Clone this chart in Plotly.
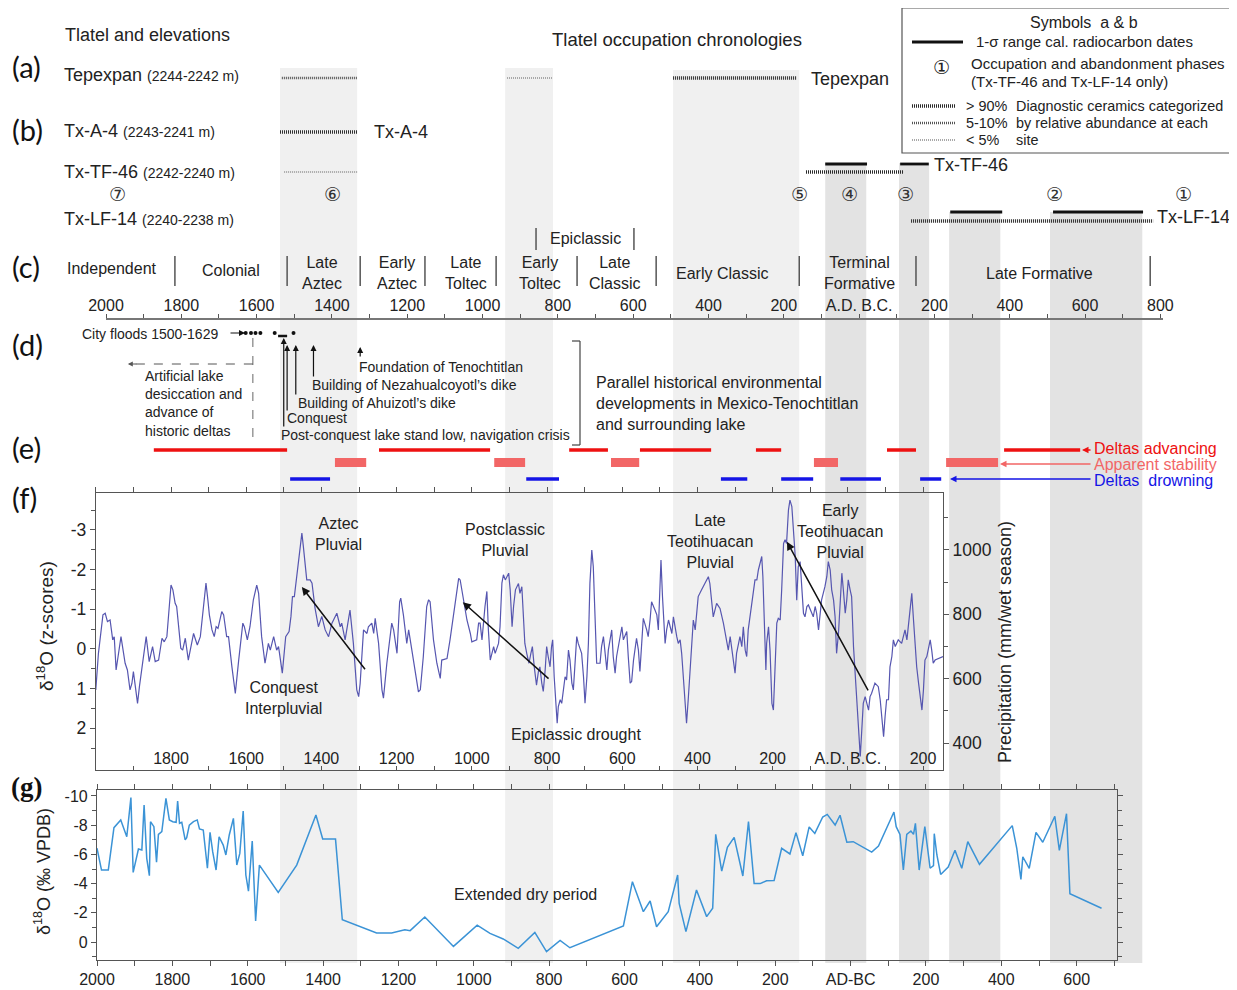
import plotly.graph_objects as go

# reference canvas is 1237x990; the page body adds an 8px margin, so the figure is drawn
# 8px smaller and every reference pixel position is shifted by that offset.
W, H = 1237, 990
OFF = 8
FW, FH = W - OFF, H - OFF
FONT = "Liberation Sans, Arial, sans-serif"

# ---------------- DATA ----------------
# shared chronology (years: A.D. positive, B.C. negative)
chron_ticks = list(range(2000, -801, -100))

# shaded occupation phases
band_start = [1538, 940, 494, 90, -106, -239, -507]
band_end = [1333, 813, 159, -19, -186, -375, -752]
band_tone = ["light", "light", "light", "dark", "dark", "dark", "dark"]

# (a)/(b) ceramic occupation records
ceram_site = ["Tepexpan", "Tepexpan", "Tepexpan", "Tx-A-4", "Tx-TF-46", "Tx-TF-46", "Tx-LF-14"]
ceram_start = [1533, 935, 494, 1538, 1527, 141, -138]
ceram_end = [1333, 815, 165, 1333, 1333, -117, -781]
ceram_class = ["5-10%", "<5%", ">90%", ">90%", "<5%", ">90%", ">90%"]
# 1-sigma radiocarbon ranges
c14_site = ["Tx-TF-46", "Tx-TF-46", "Tx-LF-14", "Tx-LF-14"]
c14_start = [90, -109, -242, -515]
c14_end = [-21, -185, -380, -754]

# (c) cultural periods
period_bounds = [1817, 1519, 1325, 1153, 964, 749, 539, 159, -151, -773]
epiclassic_bounds = [858, 598]

# (d) historical events
flood_years = [1629, 1615, 1603, 1590, 1552, 1502]
flood_bar = [1543, 1519]
desiccation_year = 1610
event_names = ["Post-conquest lake stand low, navigation crisis", "Conquest",
               "Building of Ahuizotl\u2019s dike", "Building of Nezahualcoyotl\u2019s dike",
               "Foundation of Tenochtitlan"]
event_years = [1528, 1519, 1496, 1449, 1325]

# (e) delta behaviour
adv_start = [1873, 1275, 770, 582, 274, -74, -385]
adv_end = [1519, 980, 667, 393, 207, -151, -587]
stab_start = [1392, 969, 659, 120, -231]
stab_end = [1309, 887, 584, 56, -369]
drown_start = [1511, 884, 367, 207, 50, -162]
drown_end = [1405, 797, 297, 122, -58, -218]

# (f) d18O z-scores
f_year = [2000, 1993, 1981, 1975, 1969, 1962, 1955, 1951, 1946, 1933, 1922, 1916, 1909, 1904, 1900,
          1889, 1884, 1873, 1866, 1858, 1849, 1842, 1833, 1824, 1818, 1811, 1807, 1800, 1795, 1789,
          1785, 1780, 1774, 1769, 1762, 1754, 1747, 1740, 1736, 1730, 1722, 1718, 1712, 1707, 1702,
          1698, 1691, 1685, 1680, 1675, 1665, 1660, 1652, 1647, 1638, 1629, 1620, 1609, 1605, 1597,
          1590, 1581, 1572, 1567, 1559, 1550, 1541, 1536, 1527, 1519, 1514, 1504, 1495, 1486, 1481,
          1477, 1472, 1467, 1461, 1452, 1448, 1439, 1430, 1425, 1417, 1408, 1399, 1390, 1381, 1372,
          1359, 1350, 1346, 1337, 1324, 1315, 1306, 1301, 1297, 1288, 1279, 1275, 1266, 1261, 1257,
          1248, 1239, 1235, 1226, 1213, 1208, 1199, 1192, 1189, 1182, 1177, 1173, 1168, 1160, 1151,
          1142, 1137, 1129, 1120, 1115, 1111, 1102, 1093, 1084, 1080, 1066, 1058, 1049, 1040, 1035,
          1031, 1022, 1013, 1004, 1000, 987, 982, 978, 973, 965, 960, 956, 951, 942, 938,
          929, 925, 920, 916, 911, 902, 898, 893, 889, 884,
          876, 872, 867, 863, 859, 854, 848, 843, 839, 834, 828, 823, 819, 814, 810,
          805, 801, 797, 792, 788, 785, 781, 777, 773, 770, 765, 761, 757, 752, 748,
          743, 739, 734, 730, 726, 721, 717, 708, 703, 699, 694, 690, 686, 681, 677,
          672, 668, 659, 655, 650, 646, 641, 637, 628, 624, 619, 615, 610, 601, 597,
          588, 584, 579, 575, 570, 562, 557, 553, 548, 544, 535, 531, 526, 522, 513,
          508, 504, 499, 497, 493, 490, 486, 482, 477, 468, 464, 455, 451, 446, 442,
          437, 433, 429, 424, 420, 415, 411, 406, 402, 398, 389, 380, 371, 367, 362,
          358, 349, 340, 331, 322, 318, 313, 309, 300, 296, 287, 282, 278, 273, 269,
          265, 256, 251, 247, 242, 238, 229, 226, 222, 218, 216, 211, 207, 202, 198,
          194, 189, 185, 180, 176, 171, 167, 163, 158, 154, 149, 145, 140, 136, 132,
          127, 123, 118, 114, 109, 105, 100, 92, 87, 83, 78, 74, 70, 61, 56,
          52, 47, 43, 38, 34, 30, 25, 21, 16, 12, 7, 3, -1, -6, -10,
          -15, -19, -24, -28, -33, -37, -41, -46, -50, -55, -59, -63, -72, -81, -86,
          -90, -95, -99, -103, -108, -112, -117, -121, -126, -134, -143, -148, -152, -157, -161,
          -165, -170, -174, -179, -183, -188, -192, -197, -201, -205, -210, -214, -219, -223, -227,
          -232, -241, -253]
f_z = [1.03, 0.11, -0.86, -0.90, -0.69, -0.73, -0.23, -0.31, 0.53, -0.31, 0.36, 0.53, 1.03, 0.87, 0.57,
       1.37, 0.95, 0.19, -0.31, 0.32, -0.06, 0.32, 0.28, -0.27, -0.18, -0.31, -0.82, -1.61, -1.49, -1.15,
       -1.07, -0.65, -0.02, 0.03, -0.27, 0.28, -0.10, -0.39, -0.27, -0.10, -0.31, -0.69, -1.32, -1.66, -1.24,
       -0.86, -0.48, -0.31, -0.56, -0.52, -0.94, -0.86, -0.31, -0.31, 0.45, 1.12, 0.28, -0.65, -0.56, -0.23,
       -0.56, -1.24, -1.61, -1.40, -0.31, 0.36, -0.14, 0.03, -0.31, 0.03, -0.06, 0.61, -0.31, -0.44, -0.82,
       -1.32, -1.32, -1.70, -2.24, -2.92, -2.58, -1.74, -1.74, -1.66, -1.03, -0.56, -0.82, -0.48, -0.31, -0.65,
       -0.90, -0.56, -0.65, -0.23, -0.98, -0.14, 1.03, 1.20, 0.87, -0.48, -0.39, -0.56, -0.65, -0.39, -0.77,
       -0.14, 1.03, 1.24, 0.36, -0.65, -0.48, 0.11, -1.19, -1.28, -0.86, -0.39, -0.14, -0.48, -0.02, 0.53,
       1.08, 1.03, 0.19, -1.07, -1.24, -1.19, -0.23, 0.36, 0.74, 0.28, 0.24, -0.23, -0.82, -1.49, -1.78,
       -1.74, -1.24, -0.73, -0.39, -0.18, -0.23, -0.65, -0.65, -0.23, -1.07, -1.45, -0.48, 0.28, -0.06, 0.11,
       -0.14, -0.56, -1.66, -1.87, -1.74, -1.91, -1.49, -0.56, -1.07, -1.49,
       -1.65, -1.40, -1.57, -0.81, -0.14, 0.11, 0.36, 0.11, -0.06, 0.45, 0.91, 0.57, 0.45, 0.86, 1.07,
       0.53, -0.06, 0.19, 0.45, -0.06, -0.23, 0.70, 1.37, 1.87, 1.45, 1.28, 1.37, 1.03, 0.70, 0.78,
       0.03, 0.28, 0.86, 1.03, 0.45, -0.31, -0.14, 0.11, 0.70, 1.37, 0.70, -0.14, -1.65, -2.49, -2.07,
       -0.65, 0.36, 0.36, -0.06, -0.31, 0.03, 0.53, 0.03, -0.48, 0.19, 0.61, 0.19, -0.06, -0.56, -0.23,
       -0.44, 0.19, 0.86, 0.82, 0.28, -0.27, 0.03, 0.57, -0.31, -0.77, -0.48, -0.31, -0.73, -1.19, -0.98,
       -0.86, -0.48, -1.82, -2.24, -1.32, -0.73, -0.14, -0.48, -0.73, -0.39, -0.81, -0.31, -0.14, -0.23, 0.11,
       0.78, 1.45, 1.87, 1.20, 0.53, -0.39, -0.73, -0.48, -0.98, -1.32, -1.49, -1.65, -1.82, -1.65, -1.23,
       -0.81, -1.15, -1.02, -0.65, -0.23, 0.03, -0.31, -0.02, 0.61, 0.11, -0.31, -0.06, -0.56, 0.03, 0.19,
       -0.48, -1.07, -1.49, -1.74, -1.74, -1.99, -2.33, -1.82, -0.65, 0.53, -0.14, -0.56, 0.03, 1.37, 1.54,
       0.70, -0.65, -0.77, -0.73, -1.49, -2.66, -2.75, -2.66, -3.50, -3.75, -3.59, -3.08, -2.33, -1.23, -2.07,
       -2.20, -1.49, -0.90, -0.81, -1.07, -1.11, -0.98, -0.81, -1.07, -0.90, -0.48, -0.81, -1.23, -1.57, -1.82,
       -2.20, -1.99, -1.49, -1.23, -0.81, 0.11, -0.39, -0.98, -1.91, -1.49, -0.90, -1.23, -1.74, -1.49, -1.32,
       -0.06, 0.53, 1.37, 2.04, 2.71, 2.04, 1.37, 1.20, 1.37, 1.54, 1.20, 1.12, 0.86, 0.95, 1.28,
       1.79, 2.21, 1.70, 1.28, 1.28, 0.45, 0.19, -0.23, -0.06, -0.23, -0.14, -0.31, -0.48, -0.23, -0.56,
       -0.98, -1.40, -0.81, -0.06, 0.45, 0.86, 1.20, 1.54, 1.03, 0.28, 0.19, 0.03, -0.23, 0.03, 0.36,
       0.28, 0.24, 0.19]

# (g) speleothem d18O (permil VPDB)
g_year = [2000, 1988, 1970, 1955, 1937, 1921, 1910, 1904, 1890, 1881, 1875, 1868, 1861, 1858, 1849,
          1842, 1837, 1828, 1817, 1808, 1799, 1790, 1786, 1781, 1775, 1766, 1762, 1755, 1744, 1734,
          1728, 1718, 1707, 1700, 1693, 1684, 1676, 1665, 1658, 1649, 1638, 1629, 1621, 1612, 1605,
          1598, 1588, 1579, 1569, 1519, 1470, 1419, 1401, 1367, 1349, 1258, 1218, 1183, 1169, 1130,
          1054, 991, 957, 922, 882, 838, 807, 771, 745, 643,
          630, 603, 579, 550, 532, 515, 484, 459, 455, 437, 409, 382, 366, 358, 342,
          327, 309, 286, 271, 256, 240, 223, 203, 183, 161, 145, 127, 110, 95, 74,
          62, 41, 28, 10, -7, -56, -74, -115, -121, -131, -140, -149, -160, -167, -172,
          -182, -197, -211, -220, -222, -229, -239, -259, -277, -295, -311, -342, -429, -441, -452,
          -457, -474, -492, -510, -542, -554, -573, -582, -666]
g_d18o = [-6.42, -4.93, -4.93, -7.83, -8.36, -7.21, -9.89, -4.77, -6.37, -6.30, -9.38, -5.73, -4.54, -8.24, -7.90,
          -5.46, -7.37, -7.56, -9.84, -8.36, -8.24, -8.20, -9.66, -8.13, -8.20, -6.99, -7.15, -8.01, -8.24, -8.36,
          -7.74, -7.67, -5.05, -7.51, -6.19, -4.93, -7.21, -6.64, -5.96, -7.33, -8.47, -5.27, -6.07, -8.97, -4.59,
          -3.49, -6.92, -1.44, -5.27, -3.40, -5.27, -8.70, -7.05, -7.05, -1.53, -0.62, -0.62, -0.84, -0.78, -1.71,
          0.30, -1.16, -0.59, -0.21, 0.43, -0.66, 0.66, -0.11, 0.39, -0.66,
          -0.78, -1.10, -4.13, -2.08, -2.81, -1.05, -2.08, -4.59, -2.65, -0.71, -3.56, -1.74, -2.31, -7.37, -4.86,
          -6.48, -7.17, -4.52, -8.24, -4.00, -4.00, -4.20, -4.22, -6.42, -6.03, -7.49, -5.91, -7.88, -7.44, -8.56,
          -8.74, -8.01, -8.68, -6.83, -6.87, -6.16, -6.58, -8.90, -7.90, -7.37, -4.93, -7.37, -7.60, -7.37, -8.13,
          -4.93, -7.90, -5.05, -5.23, -7.42, -5.96, -4.63, -5.14, -6.28, -5.05, -6.87, -5.32, -7.97, -6.42, -4.29,
          -5.84, -5.05, -7.51, -6.83, -8.61, -6.28, -8.79, -3.31, -2.31]

# (f) annotation arrows: tail (year, z) -> head (year, z)
arrow_tail_year = [1281, 792, -56]
arrow_tail_z = [0.55, 0.78, 1.08]
arrow_head_year = [1452, 1024, 162]
arrow_head_z = [-1.56, -1.18, -2.70]

# ---------------- helpers ----------------
def PX(x):
    return (x - OFF) / FW


def PY(y):
    return 1 - (y - OFF) / FH


def yr_label(v, zero_text, skip_first=False):
    if skip_first and v == 2000:
        return ""
    if v % 200 != 0:
        return ""
    if v == 0:
        return zero_text
    return str(abs(v))


ann = []
shapes = []


def txt(s, x, y, size=16, xa="center", color="#222", family=FONT, angle=0, ya="middle"):
    ann.append(dict(text=s, x=PX(x), y=PY(y), xref="paper", yref="paper", xanchor=xa, yanchor=ya,
                    align=xa if xa in ("left", "right") else "center",
                    showarrow=False, textangle=angle, font=dict(size=size, color=color, family=family)))


def pline(x0, y0, x1, y1, color="#333", width=1.2, dash="solid"):
    shapes.append(dict(type="line", xref="paper", yref="paper", x0=PX(x0), y0=PY(y0), x1=PX(x1), y1=PY(y1),
                       line=dict(color=color, width=width, dash=dash), layer="above"))


def yline(x0, x1, y, color, width, dash="solid"):
    shapes.append(dict(type="line", xref="x4", yref="paper", x0=x0, x1=x1, y0=PY(y), y1=PY(y),
                       line=dict(color=color, width=width, dash=dash), layer="above"))


# ---------------- figure ----------------
fig = go.Figure()

fig.add_trace(go.Scatter(x=f_year, y=f_z, mode="lines", xaxis="x", yaxis="y",
                         line=dict(color="#5656b0", width=1.2), hoverinfo="skip"))
fig.add_trace(go.Scatter(x=[], y=[], xaxis="x2", yaxis="y", hoverinfo="skip"))
fig.add_trace(go.Scatter(x=[], y=[], xaxis="x", yaxis="y2", hoverinfo="skip"))
fig.add_trace(go.Scatter(x=g_year, y=g_d18o, mode="lines", xaxis="x3", yaxis="y3",
                         line=dict(color="#3b93d6", width=1.5), hoverinfo="skip"))
fig.add_trace(go.Scatter(x=[], y=[], xaxis="x4", yaxis="y4", hoverinfo="skip"))

# --- bands
band_top_px = [68, 68, 70, 163, 163, 212, 212]
for s, e, tone, top in zip(band_start, band_end, band_tone, band_top_px):
    shapes.append(dict(type="rect", xref="x4", yref="paper", x0=s, x1=e, y0=PY(963), y1=PY(top),
                       fillcolor="#f0f0f0" if tone == "light" else "#e3e3e3",
                       line=dict(width=0), layer="below"))

# --- (a)/(b) site records
ceram_row = {"Tepexpan": 78, "Tx-A-4": 132, "Tx-TF-46": 172, "Tx-LF-14": 221}
c14_row = {"Tx-TF-46": 164, "Tx-LF-14": 212}
ceram_style = {">90%": ("#2a2a2a", 3.5, "1px,1px"), "5-10%": ("#555", 2.5, "1px,1px"),
               "<5%": ("#a8a8a8", 2.2, "1px,1px")}
for site, s, e, c in zip(ceram_site, ceram_start, ceram_end, ceram_class):
    col, wd, ds = ceram_style[c]
    yline(s, e, ceram_row[site], col, wd, ds)
for site, s, e in zip(c14_site, c14_start, c14_end):
    yline(s, e, c14_row[site], "#111", 2.8)

# --- (c) period separators
for b in period_bounds:
    shapes.append(dict(type="line", xref="x4", yref="paper", x0=b, x1=b, y0=PY(256), y1=PY(286),
                       line=dict(color="#555", width=1.5), layer="above"))
for b in epiclassic_bounds:
    shapes.append(dict(type="line", xref="x4", yref="paper", x0=b, x1=b, y0=PY(228), y1=PY(250),
                       line=dict(color="#555", width=1.5), layer="above"))

# --- (d) floods, events
for fy in flood_years:
    shapes.append(dict(type="circle", xref="x4", yref="paper", xsizemode="pixel", ysizemode="pixel",
                       xanchor=fy, yanchor=PY(333), x0=-2, x1=2, y0=-2, y1=2,
                       fillcolor="#111", line=dict(width=0), layer="above"))
yline(flood_bar[0], flood_bar[1], 336, "#111", 2.5)
shapes.append(dict(type="line", xref="x4", yref="paper", x0=desiccation_year, x1=desiccation_year,
                   y0=PY(338), y1=PY(440), line=dict(color="#666", width=1, dash="dash"), layer="above"))
yline(desiccation_year, 1935, 364, "#555", 1, "dash")
ann.append(dict(x=1942, y=PY(364), xref="x4", yref="paper", ax=10, ay=0, text="", showarrow=True,
                arrowhead=2, arrowsize=1, arrowwidth=1, arrowcolor="#555"))
ann.append(dict(x=PX(245), y=PY(333), xref="paper", yref="paper", ax=-16, ay=0, text="", showarrow=True,
                arrowhead=2, arrowsize=1, arrowwidth=1.2, arrowcolor="#111"))

event_head_px = [338, 345, 345, 345, 347]
event_tail_px = [428, 412, 396, 378, 358]
event_text_x = [279, 285, 296, 310, 357]
event_text_y = [435, 418, 403, 385, 367]
for name, ey, hp, tp, tx, ty in zip(event_names, event_years, event_head_px, event_tail_px,
                                      event_text_x, event_text_y):
    ann.append(dict(x=ey, y=PY(hp), xref="x4", yref="paper", ax=0, ay=tp - hp, text="", showarrow=True,
                    arrowhead=2, arrowsize=1, arrowwidth=1.2, arrowcolor="#111"))
    txt(name, tx, ty, size=14, xa="left")

# bracket
pline(580, 341, 580, 445, "#444", 1.2)
pline(572, 341, 580, 341, "#444", 1.2)
pline(572, 445, 580, 445, "#444", 1.2)

# --- (e) deltas
RED, SALMON, BLUE = "#ee1111", "#f26666", "#1515e6"
for s, e in zip(adv_start, adv_end):
    yline(s, e, 450, RED, 3.5)
for s, e in zip(stab_start, stab_end):
    shapes.append(dict(type="rect", xref="x4", yref="paper", x0=s, x1=e, y0=PY(467), y1=PY(458),
                       fillcolor=SALMON, line=dict(width=0), layer="above"))
for s, e in zip(drown_start, drown_end):
    yline(s, e, 479, BLUE, 3.5)
for hx, tl, yy, col in [(1082, 10, 450, RED), (1000, 92, 464, SALMON), (950, 142, 479, BLUE)]:
    ann.append(dict(x=PX(hx), y=PY(yy), xref="paper", yref="paper", ax=tl, ay=0, text="", showarrow=True,
                    arrowhead=2, arrowsize=1, arrowwidth=1.3, arrowcolor=col))
txt("Deltas advancing", 1092, 448, 16, "left", RED)
txt("Apparent stability", 1092, 464, 16, "left", SALMON)
txt("Deltas&nbsp;&nbsp;drowning", 1092, 480, 16, "left", BLUE)

# --- (f) arrows
for ty_, tz, hy, hz in zip(arrow_tail_year, arrow_tail_z, arrow_head_year, arrow_head_z):
    ann.append(dict(x=hy, y=hz, ax=ty_, ay=tz, xref="x", yref="y", axref="x", ayref="y", text="",
                    showarrow=True, arrowhead=2, arrowsize=1.1, arrowwidth=1.5, arrowcolor="#111"))

# --- legend box
shapes.append(dict(type="rect", xref="paper", yref="paper", x0=PX(902), x1=PX(1234), y0=PY(153), y1=PY(8),
                   line=dict(color="#555", width=1.2), fillcolor="white", layer="above"))
pline(912, 42, 963, 42, "#111", 3)
for yy, c in [(106, ">90%"), (123, "5-10%"), (140, "<5%")]:
    col, wd, ds = ceram_style[c]
    pline(912, yy, 955, yy, col, wd, ds)
LG = 14.4
txt("Symbols&nbsp;&nbsp;a &amp; b", 1084, 22, 16)
txt("1-\u03c3 range cal. radiocarbon dates", 974, 42, 15, "left")
txt("\u2460", 941, 67, 19, family="DejaVu Sans")
txt("Occupation and abandonment phases", 969, 63, 15, "left")
txt("(Tx-TF-46 and Tx-LF-14 only)", 969, 81, 15, "left")
txt("&gt; 90%", 964, 106, LG, "left")
txt("5-10%", 964, 123, LG, "left")
txt("&lt; 5%", 964, 140, LG, "left")
txt("Diagnostic ceramics categorized", 1014, 106, LG, "left")
txt("by relative abundance at each", 1014, 123, LG, "left")
txt("site", 1014, 140, LG, "left")

# --- text: titles & rows
txt("Tlatel and elevations", 63, 35, 18, "left")
txt("Tlatel occupation chronologies", 677, 39, 18.5)
LET = "Lato, Noto Sans, sans-serif"
for lab, yy in [("(a)", 66), ("(b)", 129), ("(c)", 266), ("(d)", 344), ("(e)", 447), ("(f)", 497)]:
    txt(lab, 10, yy, 29, "left", "#111", LET)
txt("<b>(g)</b>", 9, 787, 27, "left", "#111", "Liberation Serif, serif")

small = "<span style='font-size:14px'>%s</span>"
txt("Tepexpan " + small % "(2244-2242 m)", 62, 75, 18, "left")
txt("Tx-A-4 " + small % "(2243-2241 m)", 62, 131, 18, "left")
txt("Tx-TF-46 " + small % "(2242-2240 m)", 62, 172, 18, "left")
txt("Tx-LF-14 " + small % "(2240-2238 m)", 62, 219, 18, "left")
txt("Tx-A-4", 372, 132, 18, "left")
txt("Tepexpan", 809, 79, 18, "left")
txt("Tx-TF-46", 932, 165, 18, "left")
txt("Tx-LF-14", 1155, 217, 18, "left")
for ch, xx in [("\u2466", 117), ("\u2465", 332), ("\u2464", 799), ("\u2463", 849), ("\u2462", 905),
               ("\u2461", 1054), ("\u2460", 1183)]:
    txt(ch, xx, 194, 19, family="DejaVu Sans", color="#333")

# (c) period names
for lab, xx, yy in [("Independent", 112, 268), ("Colonial", 231, 270), ("Late<br>Aztec", 322, 273),
                    ("Early<br>Aztec", 397, 273), ("Late<br>Toltec", 466, 273), ("Early<br>Toltec", 540, 273),
                    ("Late<br>Classic", 615, 273), ("Epiclassic", 585, 238), ("Early Classic", 722, 274),
                    ("Terminal<br>Formative", 860, 273), ("Late Formative", 1039, 274)]:
    txt(lab, xx, yy, 16)

# (d) texts
txt("City floods 1500-1629", 80, 334, 14, "left")
txt("Artificial lake<br>desiccation and<br>advance of<br>historic deltas", 143, 403, 14, "left")
txt("Parallel historical environmental<br>developments in Mexico-Tenochtitlan<br>and surrounding lake",
    594, 403, 16, "left")

# (f) texts
txt("Aztec<br>Pluvial", 338, 534, 16)
txt("Postclassic<br>Pluvial", 505, 540, 16)
txt("Conquest<br>Interpluvial", 283, 698, 16)
txt("Epiclassic drought", 576, 734, 16)
txt("Late<br>Teotihuacan<br>Pluvial", 710, 541, 16)
txt("Early<br>Teotihuacan<br>Pluvial", 840, 531, 16)
txt("\u03b4<sup>18</sup>O (z-scores)", 45, 626, 19, angle=-90)
txt("Precipitation (mm/wet season)", 1005, 642, 18, angle=-90)

# (g) texts
txt("Extended dry period", 525, 894, 16)
txt("\u03b4<sup>18</sup>O (\u2030 VPDB)", 42, 872, 18, angle=-90)

# ---------------- axes ----------------
AX = dict(showgrid=False, zeroline=False, showline=True, linecolor="#555", linewidth=1.2,
          tickcolor="#555", tickfont=dict(size=16, color="#222"), automargin=False)

f_ticks = list(range(2000, -201, -100))
g_ticks = list(range(2000, -701, -100))

fig.update_layout(
    width=FW, height=FH, margin=dict(l=0, r=0, t=0, b=0, autoexpand=False),
    paper_bgcolor="white", plot_bgcolor="rgba(0,0,0,0)", showlegend=False,
    font=dict(family=FONT, size=15, color="#222"),
    xaxis=dict(AX, domain=[PX(95.8), PX(943)], range=[2000, -253], anchor="y",
               tickmode="array", tickvals=f_ticks,
               ticktext=[yr_label(v, "A.D. B.C.", True) for v in f_ticks],
               ticks="inside", ticklen=4, ticklabelposition="inside", ticklabelstandoff=-1),
    xaxis2=dict(AX, domain=[PX(95.8), PX(943)], range=[2000, -253], anchor="y", overlaying="x",
                side="top", tickmode="array", tickvals=f_ticks, ticks="outside", ticklen=5,
                showticklabels=False),
    yaxis=dict(AX, domain=[PY(770), PY(493)], range=[3.05, -3.93], anchor="x",
               tickmode="array", tickvals=[-3, -2, -1, 0, 1, 2, 3],
               ticktext=["-3", "-2", "-1", "0", "1", "2", "3"], ticks="outside", ticklen=5,
               tickfont=dict(size=17.5, color="#222"),
               minor=dict(tickmode="array", tickvals=[-3.5, -2.5, -1.5, -0.5, 0.5, 1.5, 2.5],
                          ticks="outside", ticklen=4, tickcolor="#555")),
    yaxis2=dict(AX, range=[316.3, 1176.7], anchor="x", overlaying="y", side="right",
                tickmode="array", tickvals=[400, 600, 800, 1000], ticks="outside", ticklen=5,
                tickfont=dict(size=17.5, color="#222"),
                minor=dict(tickmode="array", tickvals=[300, 500, 700, 900, 1100],
                           ticks="outside", ticklen=4, tickcolor="#555")),
    xaxis3=dict(AX, domain=[PX(97), PX(1117)], range=[2000, -707], anchor="y3",
                tickmode="array", tickvals=g_ticks,
                ticktext=[yr_label(v, "AD-BC") for v in g_ticks],
                ticks="outside", ticklen=5, mirror="ticks"),
    yaxis3=dict(AX, domain=[PY(960), PY(790)], range=[1.23, -10.41], anchor="x3",
                tickmode="array", tickvals=[-10, -8, -6, -4, -2, 0],
                ticktext=["-10", "-8", "-6", "-4", "-2", "0"], ticks="outside", ticklen=5, mirror="ticks",
                minor=dict(tickmode="array", tickvals=[-9, -7, -5, -3, -1, 1],
                           ticks="outside", ticklen=4, tickcolor="#555")),
    xaxis4=dict(AX, domain=[PX(106), PX(1163)], range=[2000, -807], anchor="y4", side="top",
                tickmode="array", tickvals=chron_ticks,
                ticktext=[yr_label(v, "A.D. B.C.") for v in chron_ticks],
                ticks="outside", ticklen=4, linecolor="#777", linewidth=1.5, ticklabelstandoff=-3),
    yaxis4=dict(domain=[PY(321), PY(320)], range=[0, 1], anchor="x4", visible=False, automargin=False),
    shapes=shapes,
    annotations=ann,
)

fig.write_html("out.html")
